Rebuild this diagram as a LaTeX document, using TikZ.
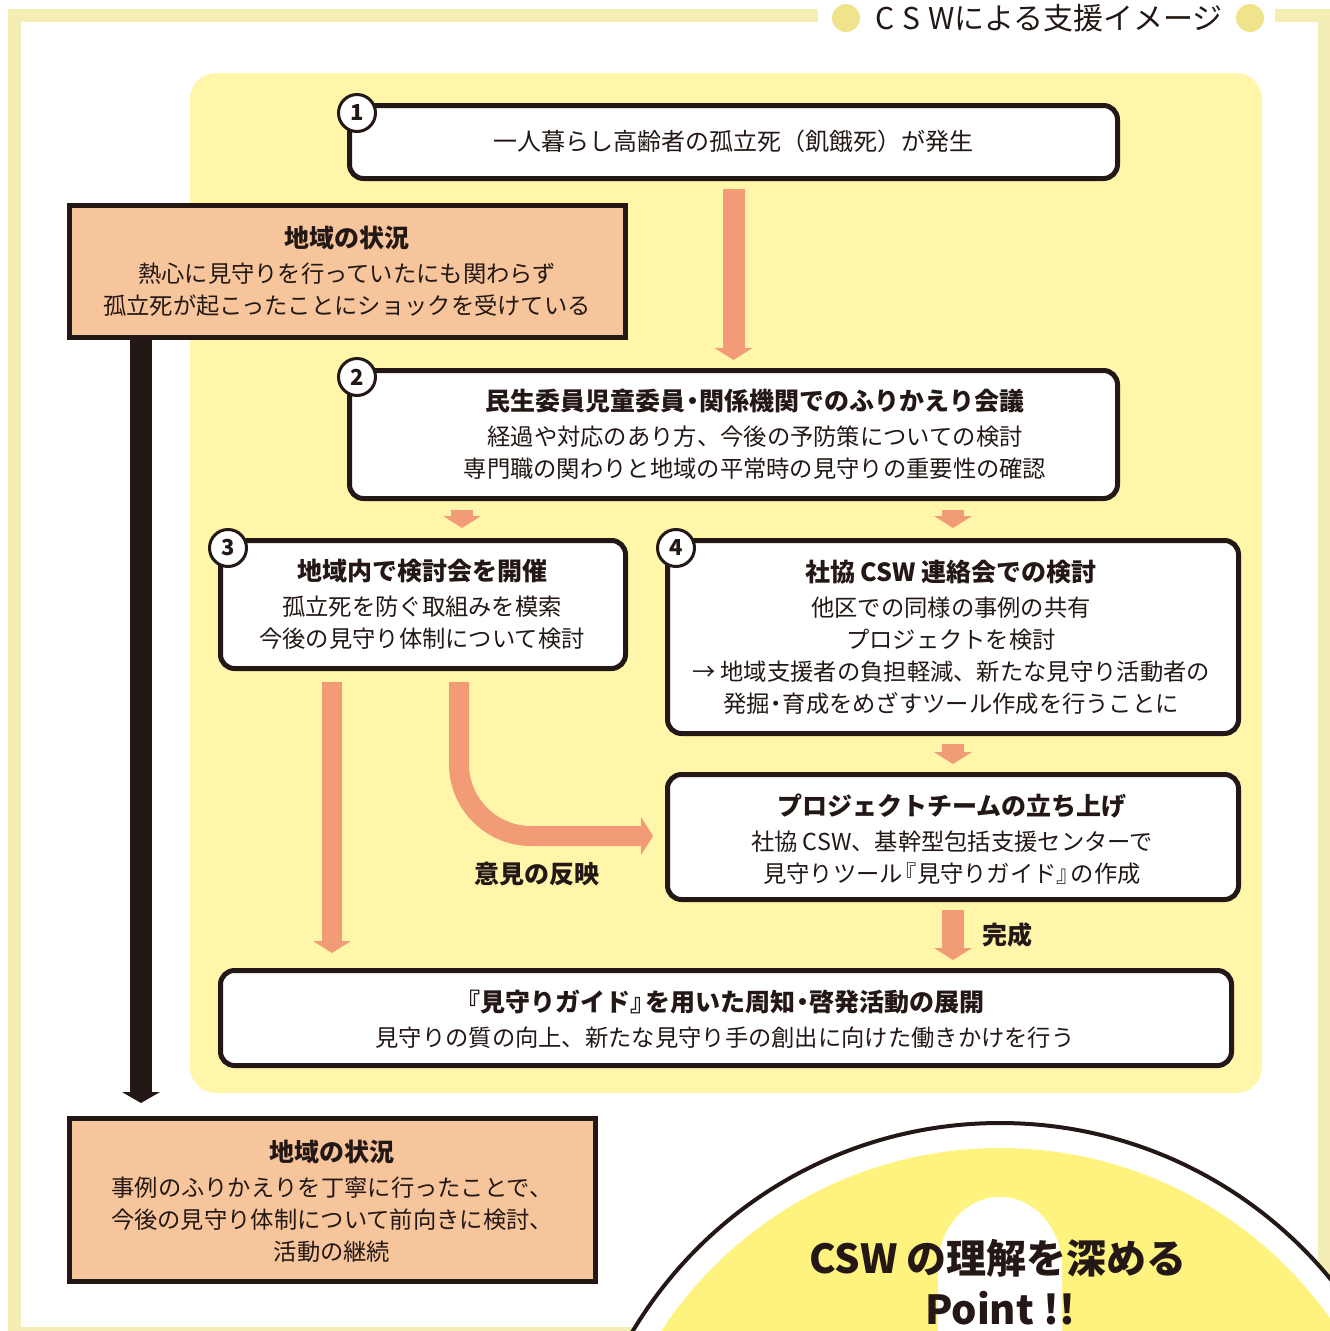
\documentclass[tikz,border=0pt]{standalone}
\usepackage{fontspec}
\setmainfont{Noto Sans CJK JP}
\usetikzlibrary{arrows.meta}
\definecolor{dark}{HTML}{231815}
\definecolor{framec}{HTML}{F4EEB4}
\definecolor{dotc}{HTML}{EFE38C}
\definecolor{panelc}{HTML}{FFF6AA}
\definecolor{orangec}{HTML}{F7C59B}
\definecolor{salmon}{HTML}{F29B77}
\definecolor{archc}{HTML}{FFF380}
\newcommand\boxtitle[1]{{\bfseries\fontsize{25}{32}\selectfont #1}\\[3pt]}
\newcommand\nd{\kern-0.22em・\kern-0.22em}
\newcommand\lbr{\kern-0.4em『}
\newcommand\rbr{』\kern-0.4em}
\begin{document}
\begin{tikzpicture}[x=1pt,y=-1pt,
  wbox/.style={draw=dark, fill=white, line width=5pt, rounded corners=14pt, inner sep=0pt},
  obox/.style={draw=dark, fill=orangec, line width=5pt, inner sep=0pt},
  txt/.style={align=center, inner sep=0pt, text=dark, font=\fontsize{23.3}{32}\selectfont},
  lbl/.style={inner sep=0pt, text=dark, font=\bfseries\fontsize{25}{30}\selectfont},
  numc/.style={circle, draw=dark, fill=white, line width=3pt, minimum size=37pt, inner sep=0pt, text=dark, font=\bfseries\fontsize{22}{22}\selectfont},
  sal/.style={draw=salmon, line width=22pt, -{Triangle[width=38pt,length=12pt,line width=0pt]}},
  salthin/.style={draw=salmon, line width=20pt, -{Triangle[width=38pt,length=12pt,line width=0pt]}},
  blk/.style={draw=dark, line width=22pt, -{Triangle[width=38pt,length=11pt,line width=0pt]}}
]
\useasboundingbox (0,0) rectangle (1330,1331);
% frame
\fill[framec] (8,9) rectangle (818,22);
\fill[framec] (1275,9) rectangle (1330,22);
\fill[framec] (1318,9) rectangle (1330,1331);
\fill[framec] (8,9) rectangle (21,1331);
\fill[framec] (8,1327) rectangle (1330,1331);
% title
\fill[dotc] (846,18) circle[radius=14];
\fill[dotc] (1250,18) circle[radius=14];
\node[inner sep=0pt, text=dark, font=\fontsize{30}{30}\selectfont] (title) at (1049,18) {C\hspace{8pt}S\hspace{8pt}Wによる支援イメージ};
% panel
\fill[panelc, rounded corners=26pt] (190,73) rectangle (1262,1093);
% helper coordinates
\coordinate (xa) at (462,0);
\coordinate (xb) at (332,0);
\coordinate (xc) at (459,0);
\coordinate (yc) at (0,836);
\coordinate (xk) at (141,0);
% boxes
\node[wbox, minimum width=768pt, minimum height=73pt] (b1) at (733.5,142) {};
\node[wbox, minimum width=768pt, minimum height=128pt] (b2) at (733.5,434.5) {};
\node[wbox, minimum width=405pt, minimum height=128pt] (b3) at (423,604.5) {};
\node[wbox, minimum width=571pt, minimum height=193pt] (b4) at (953,637) {};
\node[wbox, minimum width=571pt, minimum height=125pt] (b5) at (953,837) {};
\node[wbox, minimum width=1011pt, minimum height=95pt] (b6) at (726,1018) {};
\node[obox, minimum width=556pt, minimum height=132pt] (oa) at (347.5,271.5) {};
\node[obox, minimum width=526pt, minimum height=163pt] (ob) at (332.5,1200) {};
% arrows
\draw[sal, shorten <=8pt, shorten >=8pt] (b1.south) -- (b2.north);
\draw[sal, shorten <=9pt, shorten >=10pt] (b2.south -| xa) -- (b3.north -| xa);
\draw[sal, shorten <=9pt, shorten >=10pt] (b2.south -| b4.north) -- (b4.north);
\draw[sal, shorten <=8pt, shorten >=8pt] (b4.south) -- (b5.north);
\draw[sal, shorten <=8pt, shorten >=8pt] (b5.south) -- (b6.north -| b5.south);
\draw[salthin, shorten <=11pt, shorten >=15pt] (b3.south -| xb) -- (b6.north -| xb);
\draw[salthin, rounded corners=72pt, shorten <=11pt, shorten >=12pt] (b3.south -| xc) |- (b5.west |- yc);
\draw[blk, shorten >=13pt] (oa.south -| xk) -- (ob.north -| xk);
% number circles
\node[numc] (n1) at (357,113) {1};
\node[numc] (n2) at (357,377) {2};
\node[numc] (n3) at (228,548) {3};
\node[numc] (n4) at (676,548) {4};
% texts
\node[txt, font=\fontsize{24}{32}\selectfont] (t1) at (733,141) {一人暮らし高齢者の孤立死（飢餓死）が発生};
\node[txt] (t2) at (755,434.5) {\boxtitle{民生委員児童委員\nd 関係機関でのふりかえり会議}経過や対応のあり方、今後の予防策についての検討\\専門職の関わりと地域の平常時の見守りの重要性の確認};
\node[txt] (t3) at (422,604.5) {\boxtitle{地域内で検討会を開催}孤立死を防ぐ取組みを模索\\今後の見守り体制について検討};
\node[txt] (t4) at (951,637) {\boxtitle{社協 CSW 連絡会での検討}他区での同様の事例の共有\\プロジェクトを検討\\→ 地域支援者の負担軽減、新たな見守り活動者の\\発掘\nd 育成をめざすツール作成を行うことに};
\node[txt] (t5) at (952,839) {\boxtitle{プロジェクトチームの立ち上げ}社協 CSW、基幹型包括支援センターで\\見守りツール\lbr 見守りガイド\rbr の作成};
\node[txt] (t6) at (725,1019) {\boxtitle{\lbr 見守りガイド\rbr を用いた周知\nd 啓発活動の展開}見守りの質の向上、新たな見守り手の創出に向けた働きかけを行う};
\node[txt] (ta) at (347,271.5) {\boxtitle{地域の状況}熱心に見守りを行っていたにも関わらず\\孤立死が起こったことにショックを受けている};
\node[txt] (tb) at (332,1201) {\boxtitle{地域の状況}事例のふりかえりを丁寧に行ったことで、\\今後の見守り体制について前向きに検討、\\活動の継続};
\node[lbl] (l1) at (537,874) {意見の反映};
\node[lbl] (l2) at (1007,935) {完成};
% arch
\begin{scope}
\clip (0,0) rectangle (1330,1331);
\filldraw[fill=white, draw=dark, line width=4pt] (1000,1551) circle[radius=428];
\fill[archc] (1000,1553) circle[radius=405];
\fill[white] (938,1345) -- (938,1267) arc[start angle=180, end angle=360, x radius=62, y radius=70] -- (1062,1345) -- cycle;
\end{scope}
\node[inner sep=0pt, text=dark, font=\bfseries\fontsize{40}{40}\selectfont] (p1) at (998,1258) {CSW の理解を深める};
\node[inner sep=0pt, text=dark, font=\bfseries\fontsize{40}{40}\selectfont] (p2) at (1000,1308) {Point !!};
\end{tikzpicture}
\end{document}
